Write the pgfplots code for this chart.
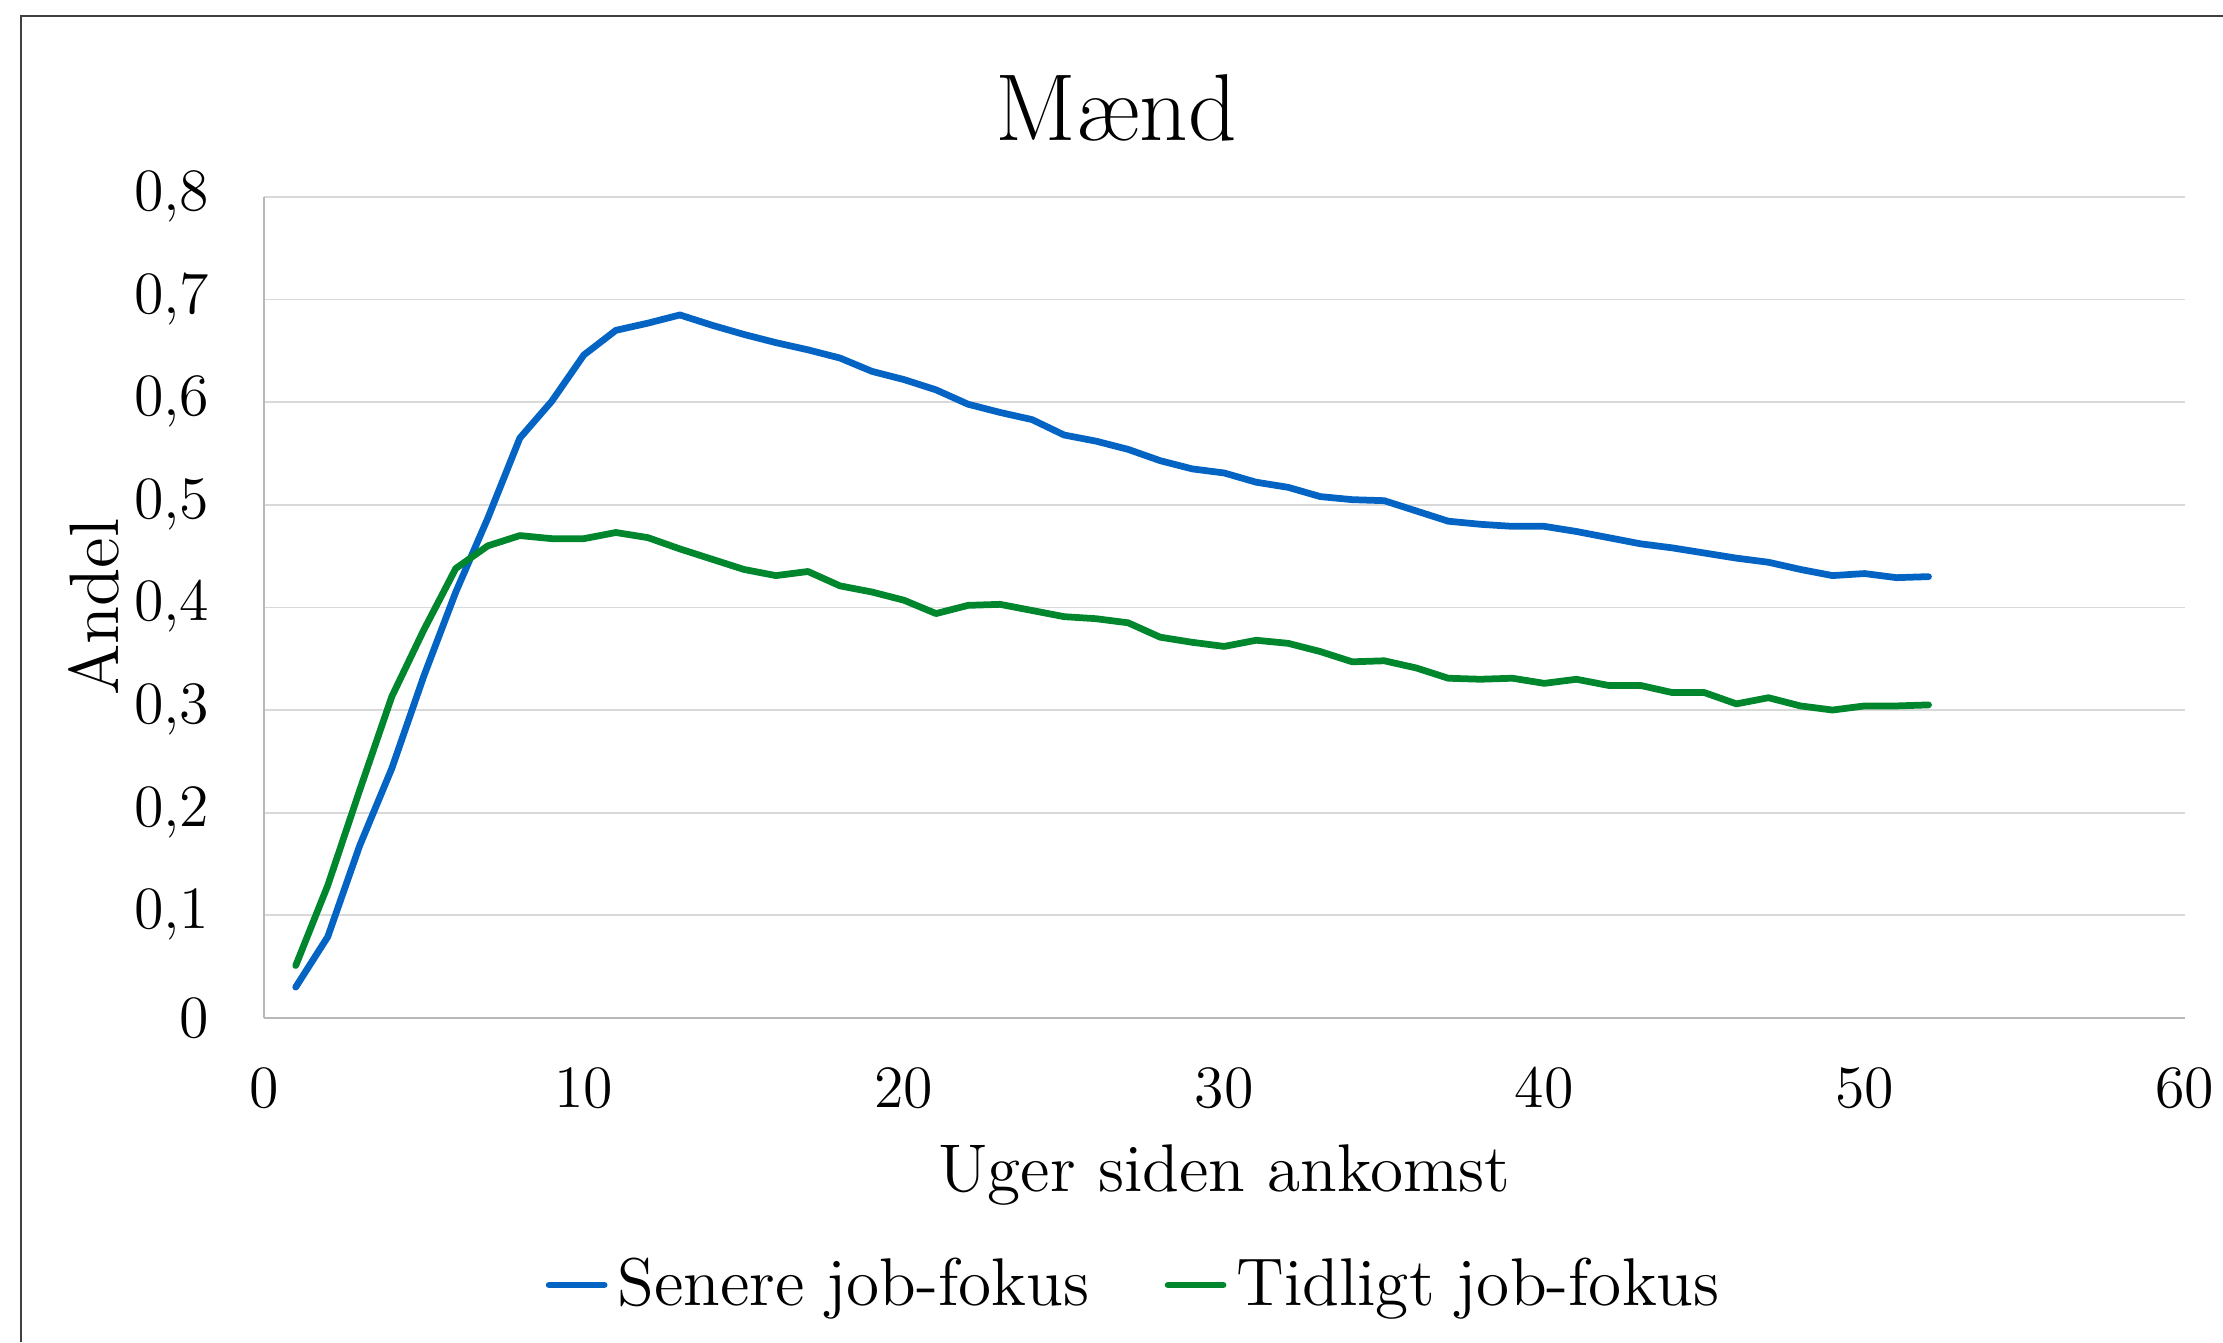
\documentclass[border=0pt]{standalone}
\usepackage{pgfplots}
\usepackage{pgfplotstable}
\pgfplotsset{compat=1.18}

\definecolor{senere}{RGB}{4,100,196}
\definecolor{tidligt}{RGB}{0,134,45}
\definecolor{gridgray}{RGB}{217,217,217}

\pgfplotstableread{
uge andel
1 0.030
2 0.079
3 0.168
4 0.243
5 0.333
6 0.415
7 0.487
8 0.565
9 0.601
10 0.646
11 0.670
12 0.677
13 0.685
14 0.675
15 0.666
16 0.658
17 0.651
18 0.643
19 0.630
20 0.622
21 0.612
22 0.598
23 0.590
24 0.583
25 0.568
26 0.562
27 0.554
28 0.543
29 0.535
30 0.531
31 0.522
32 0.517
33 0.508
34 0.505
35 0.504
36 0.494
37 0.484
38 0.481
39 0.479
40 0.479
41 0.474
42 0.468
43 0.462
44 0.458
45 0.453
46 0.448
47 0.444
48 0.437
49 0.431
50 0.433
51 0.429
52 0.430
}\senere

\pgfplotstableread{
uge andel
1 0.051
2 0.129
3 0.222
4 0.313
5 0.378
6 0.438
7 0.460
8 0.470
9 0.467
10 0.467
11 0.473
12 0.468
13 0.457
14 0.447
15 0.437
16 0.431
17 0.435
18 0.421
19 0.415
20 0.407
21 0.394
22 0.402
23 0.403
24 0.397
25 0.391
26 0.389
27 0.385
28 0.371
29 0.366
30 0.362
31 0.368
32 0.365
33 0.357
34 0.347
35 0.348
36 0.341
37 0.331
38 0.330
39 0.331
40 0.326
41 0.330
42 0.324
43 0.324
44 0.317
45 0.317
46 0.306
47 0.312
48 0.304
49 0.300
50 0.304
51 0.304
52 0.305
}\tidligt

\begin{document}
\begin{tikzpicture}
% page = 2223 x 1342 px at 0.2pt per px
\useasboundingbox (0,0) rectangle (444.6pt,268.4pt);
% chart frame (right and bottom edges fall outside the picture)
\draw[black!75, line width=0.4pt] (4.2pt,0pt) -- (4.2pt,265.1pt) -- (444.6pt,265.1pt);

\begin{axis}[
scale only axis,
width=384.2pt,
height=164.2pt,
at={(52.74pt,64.82pt)},
anchor=south west,
xmin=0, xmax=60,
ymin=0, ymax=0.8,
xtick={0,10,20,30,40,50,60},
ytick={0,0.1,0.2,0.3,0.4,0.5,0.6,0.7,0.8},
axis x line*=bottom,
axis y line*=left,
axis line style={draw=gridgray!85!black, line width=0.4pt, -},
major tick length=0pt,
ymajorgrids,
grid style={draw=gridgray, line width=0.35pt},
yticklabel style={/pgf/number format/fixed, /pgf/number format/precision=1,
  /pgf/number format/use comma, font=\fontsize{12}{14}\selectfont,
  anchor=east, inner sep=0pt, xshift=-10.7pt},
xticklabel style={font=\fontsize{12}{14}\selectfont, anchor=north, inner sep=0pt, yshift=-10pt},
title={Mænd},
title style={font=\fontsize{19}{22}\selectfont, at={(axis description cs:0.4437,1.032)}, anchor=base},
xlabel={Uger siden ankomst},
xlabel style={font=\fontsize{13.5}{16}\selectfont, at={(axis description cs:0.5,-0.211)}, anchor=base},
ylabel={Andel},
ylabel style={font=\fontsize{14}{16}\selectfont, at={(axis description cs:-0.0758,0.5)}, anchor=base, rotate=0},
legend columns=2,
legend style={at={(axis description cs:0.455,-0.3254)}, anchor=center, draw=none, fill=none,
  font=\fontsize{13.5}{16}\selectfont,
  /tikz/every even column/.append style={column sep=13pt}},
legend image code/.code={\draw[#1, line cap=round] (0pt,0pt) -- (11pt,0pt);},
]
\addplot[senere, line width=1.35pt, line join=round, line cap=round] table[x=uge, y=andel] {\senere};
\addlegendentry{Senere job-fokus}
\addplot[tidligt, line width=1.35pt, line join=round, line cap=round] table[x=uge, y=andel] {\tidligt};
\addlegendentry{Tidligt job-fokus}
\end{axis}
\end{tikzpicture}
\end{document}
